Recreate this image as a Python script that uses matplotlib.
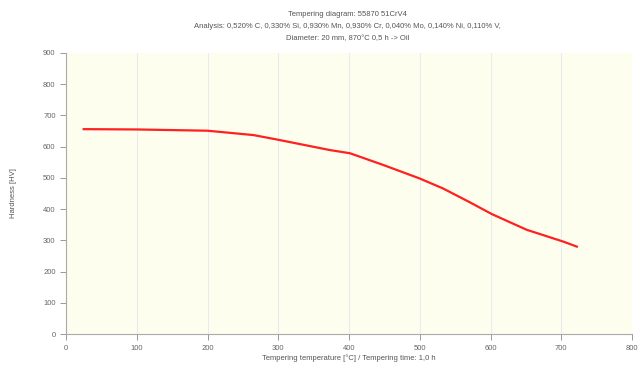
import matplotlib.pyplot as plt

# Tempering curve
temperature = [25, 100, 200, 265, 300, 373, 401, 415, 450, 500, 533, 569, 602, 651, 703, 722]
hardness = [656, 655, 651, 637, 622, 589, 579, 568, 540, 498, 466, 424, 384, 334, 296, 280]

x_ticks = [0, 100, 200, 300, 400, 500, 600, 700, 800]
y_ticks = [0, 100, 200, 300, 400, 500, 600, 700, 800, 900]

title_lines = [
    "Tempering diagram: 55870 51CrV4",
    "Analysis: 0,520% C, 0,330% Si, 0,930% Mn, 0,930% Cr, 0,040% Mo, 0,140% Ni, 0,110% V,",
    "Diameter: 20 mm, 870°C 0,5 h -> Oil",
]

plt.rcParams['font.family'] = ['Liberation Sans', 'DejaVu Sans']

fig = plt.figure(figsize=(6.41, 3.70), dpi=100)
ax = fig.add_axes([0.103, 0.097, 0.883, 0.76])
ax.set_facecolor('#fefeee')

ax.plot(temperature, hardness, color='#ff2020', linewidth=1.6)

ax.set_xlim(0, 800)
ax.set_ylim(0, 900)
ax.set_xticks(x_ticks)
ax.set_yticks(y_ticks)
ax.grid(axis='x', color='#e6ecf0', linewidth=0.8)
ax.tick_params(labelsize=5.5, colors='#888888', length=4, width=0.6, labelcolor='#666666')

for side in ['top', 'right']:
    ax.spines[side].set_visible(False)
for side in ['left', 'bottom']:
    ax.spines[side].set_color('#aaaaaa')
    ax.spines[side].set_linewidth(0.8)

ax.set_xlabel("Tempering temperature [°C] / Tempering time: 1,0 h", fontsize=5.5, color='#555555', labelpad=2)
ax.set_ylabel("Hardness [HV]", fontsize=5.5, color='#555555', labelpad=19)

for i, line in enumerate(title_lines):
    fig.text(0.542, 1 - (14.5 + 12 * i) / 370, line, fontsize=5.5, color='#555555', ha='center', va='center')

fig.savefig('out.png', dpi=100)
